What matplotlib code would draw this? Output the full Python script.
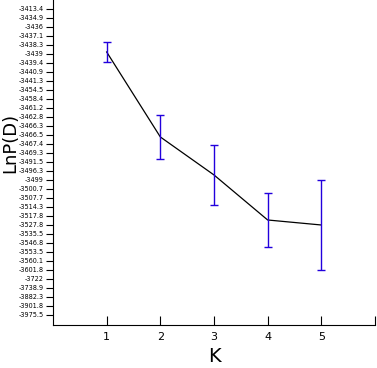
import numpy as np
import matplotlib.pyplot as plt

# K values and mean LnP(D) with standard deviation (linear axis units)
k = [1, 2, 3, 4, 5]
lnp_mean = [-3492.4, -3648.5, -3718.3, -3801.0, -3810.2]
lnp_sd = [17.5, 40.4, 55.1, 49.6, 82.7]

# tick labels on the y axis, evenly spaced as in the original program output
ytick_labels = ["-3413.4", "-3434.9", "-3436", "-3437.1", "-3438.3", "-3439",
                "-3439.4", "-3440.9", "-3441.3", "-3454.5", "-3458.4", "-3461.2",
                "-3462.8", "-3466.3", "-3466.5", "-3467.4", "-3469.3", "-3491.5",
                "-3496.3", "-3499", "-3500.7", "-3507.7", "-3514.3", "-3517.8",
                "-3527.8", "-3535.5", "-3546.8", "-3553.5", "-3560.1", "-3601.8",
                "-3722", "-3738.9", "-3882.3", "-3901.8", "-3975.5"]

fig = plt.figure(figsize=(3.77, 3.68), dpi=100)
ax = fig.add_axes([53/377, 43/368, 322/377, 325/368])

ax.plot(k, lnp_mean, color="black", lw=0.9)
ax.errorbar(k, lnp_mean, yerr=lnp_sd, fmt="none", ecolor="#2200dd",
            elinewidth=1.0, capsize=3, capthick=1.0)

ax.set_xlim(0, 6)
ax.set_ylim(-3993.9, -3396.9)
ax.set_xticks([1, 2, 3, 4, 5, 6])
ax.set_xticklabels(["1", "2", "3", "4", "5", ""], fontsize=8)
ax.tick_params(axis="x", direction="in", length=6.5, width=0.8, pad=5)

yt = np.linspace(-3413.4, -3975.5, len(ytick_labels))
ax.set_yticks(yt)
ax.set_yticklabels(ytick_labels, fontsize=4.7)
ax.tick_params(axis="y", direction="out", length=5, width=0.8, pad=1.5)

for s in ["top", "right"]:
    ax.spines[s].set_visible(False)
for s in ["left", "bottom"]:
    ax.spines[s].set_linewidth(0.8)

ax.set_xlabel("K", fontsize=14)
ax.xaxis.set_label_coords(0.5, -22/325)
ax.set_ylabel("LnP(D)", fontsize=13)
ax.yaxis.set_label_coords(-34/322, 0.56)

fig.savefig("out.png", dpi=100)
